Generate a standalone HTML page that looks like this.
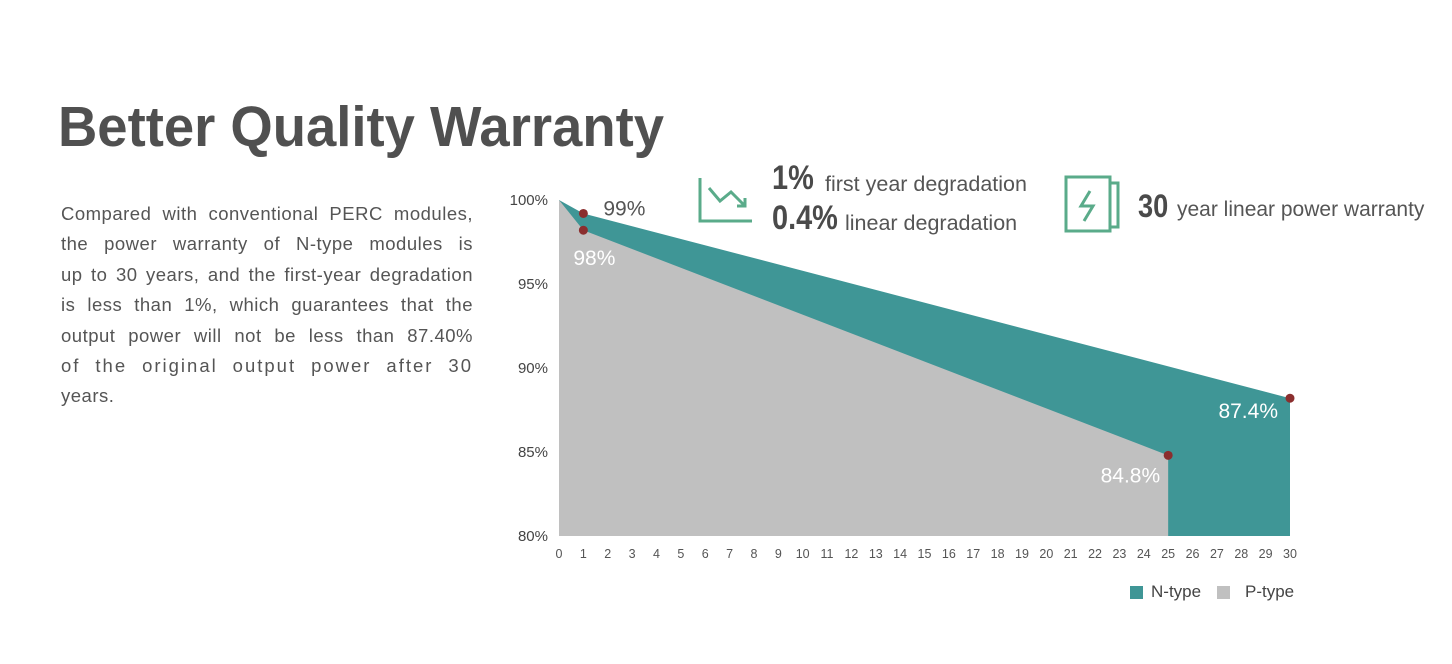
<!DOCTYPE html>
<html><head><meta charset="utf-8"><style>
body{margin:0;width:1452px;height:664px;background:#fff;overflow:hidden;position:relative;font-family:"Liberation Sans",sans-serif;color:#555}
.t{position:absolute;white-space:nowrap}
.p div{text-align:justify;text-align-last:justify;width:412px;height:30.4px;letter-spacing:0.5px}
</style></head><body>
<div class="t" style="left:58px;top:94px;font-size:57px;font-weight:bold;color:#505050;transform:scaleX(0.955);transform-origin:left">Better Quality Warranty</div>
<div class="t p" style="left:61px;top:199px;font-size:18.5px;line-height:30.4px;color:#555">
<div>Compared with conventional PERC modules,</div>
<div>the power warranty of N-type modules is</div>
<div>up to 30 years, and the first-year degradation</div>
<div>is less than 1%, which guarantees that the</div>
<div>output power will not be less than 87.40%</div>
<div style="letter-spacing:2px">of the original output power after 30</div>
<div style="text-align-last:left">years.</div>
</div>
<svg width="1452" height="664" style="position:absolute;left:0;top:0">
<g fill="none" stroke="#5aab8a" stroke-width="3">
<polyline points="700,178 700,221 752,221"/><polyline points="709,188 720,201 731,192 744,205"/><polyline points="737,206 745,206 745,198"/></g>
<g fill="none" stroke="#5aab8a" stroke-width="3">
<rect x="1066" y="177" width="44" height="54"/><rect x="1110" y="183" width="8" height="44"/>
<polyline points="1090,191 1081,206 1093,206 1084,221"/></g>
<g id="plot"></g>
</svg>
<div class="t" style="left:772px;top:159px;font-size:34px;font-weight:bold;color:#4a4a4a;transform:scaleX(0.85);transform-origin:left">1%</div>
<div class="t" style="left:825px;top:172px;font-size:21.5px;color:#555">first year degradation</div>
<div class="t" style="left:772px;top:199px;font-size:34px;font-weight:bold;color:#4a4a4a;transform:scaleX(0.85);transform-origin:left">0.4%</div>
<div class="t" style="left:845px;top:211px;font-size:21.5px;color:#555">linear degradation</div>
<div class="t" style="left:1138px;top:188px;font-size:32px;font-weight:bold;color:#4a4a4a;transform:scaleX(0.85);transform-origin:left">30</div>
<div class="t" style="left:1177px;top:198px;font-size:21px;color:#555">year linear power warranty</div>
<div style="position:absolute;left:1130px;top:586px;width:13px;height:13px;background:#3f9696"></div>
<div class="t" style="left:1151px;top:582px;font-size:17px;color:#444">N-type</div>
<div style="position:absolute;left:1217px;top:586px;width:13px;height:13px;background:#c0c0c0"></div>
<div class="t" style="left:1245px;top:582px;font-size:17px;color:#444">P-type</div>
<script>
const years=[0,1,25,30];
const nType=[100,99.2,null,88.2];
const pType=[100,98.2,84.8,null];
const nLabels=["99%","87.4%"];
const pLabels=["98%","84.8%"];
const yTicks=[100,95,90,85,80];
const xTicks=Array.from({length:31},(_,i)=>i);
const X=v=>559+v*(1290-559)/30, Y=v=>536-(v-80)*16.8;
const ns="http://www.w3.org/2000/svg", g=document.getElementById('plot');
function mk(t,a,txt){const e=document.createElementNS(ns,t);for(const k in a)e.setAttribute(k,a[k]);if(txt!=null)e.textContent=txt;g.appendChild(e);return e;}
function area(xs,ys,fill,name){const pts=[];xs.forEach((x,i)=>{if(ys[i]!=null)pts.push([x,ys[i]]);});
 const last=pts[pts.length-1];let s=`${X(0)},${Y(80)} `+pts.map(p=>X(p[0])+','+Y(p[1])).join(' ')+` ${X(last[0])},${Y(80)}`;
 const e=mk('polygon',{points:s,fill:fill});
 
 return pts;}
const np=area(years,nType,'#3f9696','n-type-area');
const pp=area(years,pType,'#c0c0c0','p-type-area');
yTicks.forEach(v=>{const e=mk('text',{x:548,y:Y(v)+5,'text-anchor':'end','font-size':15,fill:'#444','font-family':'Liberation Sans'},v+'%');
 
 });
xTicks.forEach(v=>{const e=mk('text',{x:X(v),y:558,'text-anchor':'middle','font-size':12.5,fill:'#555','font-family':'Liberation Sans'},v);
 
 });
function dot(p,name){const e=mk('circle',{cx:X(p[0]),cy:Y(p[1]),r:4.5,fill:'#8b2e2e'});
 
 }
dot(np[1],'n-type-year1-point');dot(np[2],'n-type-year30-point');
dot(pp[1],'p-type-year1-point');dot(pp[2],'p-type-year25-point');
function lbl(x,y,t,c,anchor,name){const e=mk('text',{x:x,y:y,'font-size':21,fill:c,'text-anchor':anchor,'font-family':'Liberation Sans'},t);
 
 }
lbl(X(np[1][0])+20,Y(np[1][1])+2,nLabels[0],'#555','start','label-99');
lbl(X(pp[1][0])+11,Y(pp[1][1])+35,pLabels[0],'#fff','middle','label-98');
lbl(X(np[2][0])-12,Y(np[2][1])+20,nLabels[1],'#fff','end','label-87-4');
lbl(X(pp[2][0])-8,Y(pp[2][1])+27,pLabels[1],'#fff','end','label-84-8');
</script>
</body></html>
